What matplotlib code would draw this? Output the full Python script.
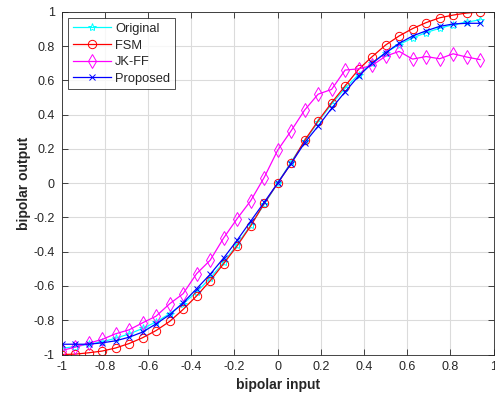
import matplotlib

matplotlib.use("Agg")
import matplotlib.pyplot as plt
from matplotlib.ticker import FuncFormatter

plt.rcParams["font.family"] = ["Liberation Sans", "DejaVu Sans"]

# bipolar input, step 1/16
x_values = [-1 + 0.0625 * k for k in range(32)]

original = [-0.964, -0.954, -0.941, -0.926, -0.905, -0.880, -0.848, -0.810,
            -0.762, -0.704, -0.635, -0.555, -0.462, -0.358, -0.245, -0.124,
            0.000, 0.124, 0.245, 0.358, 0.462, 0.555, 0.635, 0.704,
            0.762, 0.810, 0.848, 0.880, 0.905, 0.926, 0.941, 0.954]

fsm = [-1.000, -0.998, -0.990, -0.980, -0.962, -0.936, -0.902, -0.860,
       -0.807, -0.737, -0.658, -0.570, -0.470, -0.366, -0.250, -0.118,
       0.000, 0.116, 0.250, 0.364, 0.470, 0.568, 0.665, 0.739,
       0.807, 0.860, 0.903, 0.938, 0.966, 0.982, 0.994, 1.000]

jkff = [-0.977, -0.957, -0.934, -0.912, -0.879, -0.856, -0.815, -0.776,
        -0.704, -0.645, -0.528, -0.450, -0.320, -0.207, -0.103, 0.033,
        0.192, 0.306, 0.427, 0.520, 0.548, 0.661, 0.668, 0.688,
        0.742, 0.770, 0.725, 0.740, 0.727, 0.756, 0.737, 0.722]

proposed = [-0.940, -0.940, -0.940, -0.932, -0.920, -0.899, -0.869, -0.821,
            -0.768, -0.698, -0.616, -0.532, -0.437, -0.333, -0.222, -0.112,
            0.000, 0.115, 0.236, 0.333, 0.437, 0.534, 0.626, 0.700,
            0.762, 0.817, 0.860, 0.890, 0.916, 0.930, 0.934, 0.934]

series = [
    ("Original", original, (0, 1, 1), "*", 6),
    ("FSM", fsm, (1, 0, 0), "o", 6),
    ("JK-FF", jkff, (1, 0, 1), "d", 7),
    ("Proposed", proposed, (0, 0, 1), "x", 4.5),
]

fig = plt.figure(figsize=(4.95, 3.98), dpi=100)
ax = fig.add_axes([61.6 / 495, 43.5 / 398, 432.0 / 495, 342.5 / 398])

for name, values, color, marker, size in series:
    ax.plot(x_values, values, color=color, marker=marker, markersize=size,
            markerfacecolor="none", markeredgewidth=0.7, linewidth=0.9,
            label=name)

axis_color = (0.15, 0.15, 0.15)
ax.set_xlim(-1, 1)
ax.set_ylim(-1, 1)
ticks = [-1, -0.8, -0.6, -0.4, -0.2, 0, 0.2, 0.4, 0.6, 0.8, 1]
ax.set_xticks(ticks)
ax.set_yticks(ticks)
fmt = FuncFormatter(lambda v, pos: "%g" % round(v, 1))
ax.xaxis.set_major_formatter(fmt)
ax.yaxis.set_major_formatter(fmt)
ax.tick_params(direction="in", top=True, right=True, length=4, width=0.6,
               colors=axis_color, labelsize=9, pad=5)
for spine in ax.spines.values():
    spine.set_color(axis_color)
    spine.set_linewidth(0.6)
ax.grid(True, color=(0.86, 0.86, 0.86), linewidth=0.8)
ax.set_axisbelow(True)

ax.set_xlabel("bipolar input", fontsize=10, fontweight="bold", color=axis_color,
              labelpad=3)
ax.set_ylabel("bipolar output", fontsize=10, fontweight="bold", color=axis_color,
              labelpad=2)

leg = ax.legend(loc="upper left", fontsize=9.3, frameon=True, fancybox=False,
                edgecolor="black", handlelength=3.0, handletextpad=0.3,
                borderpad=0.35, labelspacing=0.35, borderaxespad=0.5)
leg.get_frame().set_linewidth(0.6)
for text in leg.get_texts():
    text.set_color(axis_color)

fig.savefig("out.png", dpi=100)
